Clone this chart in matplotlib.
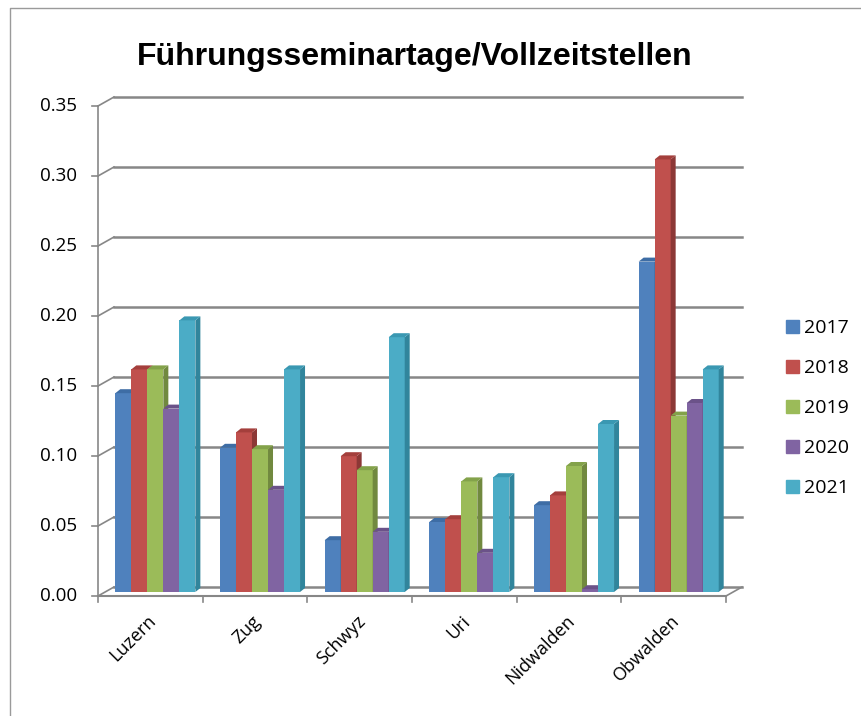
import matplotlib
matplotlib.use("Agg")
import matplotlib.pyplot as plt
import matplotlib.transforms as mtransforms
from matplotlib.patches import Polygon, Rectangle

# data
cantons = ["Luzern", "Zug", "Schwyz", "Uri", "Nidwalden", "Obwalden"]
years = ["2017", "2018", "2019", "2020", "2021"]
v2017 = [0.142, 0.103, 0.037, 0.050, 0.062, 0.236]
v2018 = [0.159, 0.114, 0.097, 0.052, 0.069, 0.309]
v2019 = [0.159, 0.102, 0.087, 0.079, 0.090, 0.126]
v2020 = [0.131, 0.073, 0.043, 0.028, 0.002, 0.135]
v2021 = [0.194, 0.159, 0.182, 0.082, 0.120, 0.159]
series = [v2017, v2018, v2019, v2020, v2021]
yticks = [0.00, 0.05, 0.10, 0.15, 0.20, 0.25, 0.30, 0.35]

front_cols = ["#4F81BD", "#C0504D", "#9BBB59", "#8064A2", "#4BACC6"]
side_cols = ["#385D8A", "#8C3836", "#71893F", "#5C4776", "#31859C"]
top_cols = ["#3E6DA5", "#A43F3C", "#83A24A", "#6B5289", "#3A98B2"]
grid_col = "#878787"

plt.rcParams['font.family'] = ['Open Sans', 'DejaVu Sans']

W, H = 861, 716
fig = plt.figure(figsize=(W / 100, H / 100), dpi=100)
# axes = plane of the bar fronts
ax = fig.add_axes([103 / W, 124 / H, 628 / W, 490 / H])
ax.set_xlim(-0.5, len(cantons) - 0.5)
ax.set_ylim(0, 0.35)
ax.axis("off")

def shifted(dx, dy):
    return mtransforms.offset_copy(ax.transData, fig=fig, x=dx, y=dy, units="dots")

front = shifted(-5, -4)
back = shifted(11, 5)
x0, x1 = -0.5, len(cantons) - 0.5

# back wall gridlines
for t in yticks:
    ax.plot([x0, x1], [t, t], color=grid_col, lw=1.8, transform=back, clip_on=False, zorder=1)
# left wall diagonals + ticks + labels
for t in yticks:
    xa, ya = front.transform((x0, t))
    xb, yb = back.transform((x0, t))
    fig.add_artist(plt.Line2D([xa / W, xb / W], [ya / H, yb / H], color=grid_col, lw=1.2))
    fig.add_artist(plt.Line2D([(xa - 6) / W, xa / W], [ya / H, ya / H], color=grid_col, lw=1.2))
    ax.text(x0, t, f"{t:.2f}", transform=shifted(-26, -4), ha="right", va="center", fontsize=13.5)
ax.plot([x0, x0], [0, 0.35], color=grid_col, lw=1.2, transform=front, clip_on=False)
# floor
ax.plot([x0, x1], [0, 0], color=grid_col, lw=1.5, transform=front, clip_on=False, zorder=1)
xa, ya = front.transform((x1, 0))
xb, yb = back.transform((x1, 0))
fig.add_artist(plt.Line2D([xa / W, xb / W], [ya / H, yb / H], color=grid_col, lw=1.2))
for i in range(len(cantons) + 1):
    xa, ya = front.transform((i - 0.5, 0))
    fig.add_artist(plt.Line2D([xa / W, xa / W], [ya / H, (ya - 6) / H], color=grid_col, lw=1.2))

# bars with a fake depth
bw = 0.153
ddx = 5 / (628 / 6)
ddy = 4 / 1400
z = 3
for i in range(len(cantons)):
    for j, vals in enumerate(series):
        h = vals[i]
        xl = i + (j - 2) * bw - bw / 2
        ax.bar(xl, h, width=bw, align="edge", color=front_cols[j], edgecolor="none", zorder=z)
        ax.add_patch(Polygon([(xl + bw, 0), (xl + bw + ddx, ddy), (xl + bw + ddx, h + ddy), (xl + bw, h)],
                             closed=True, facecolor=side_cols[j], edgecolor="none", zorder=z))
        ax.add_patch(Polygon([(xl, h), (xl + bw, h), (xl + bw + ddx, h + ddy), (xl + ddx, h + ddy)],
                             closed=True, facecolor=top_cols[j], edgecolor="none", zorder=z))
        z += 1

# category labels
for i, name in enumerate(cantons):
    ax.text(i, 0, name, transform=shifted(-8, -20), rotation=45, ha="right", va="top",
            rotation_mode="anchor", fontsize=13)

fig.text(0.482, 0.920, "Führungsseminartage/Vollzeitstellen", ha="center", va="center",
         fontsize=23, fontweight="bold", family="Liberation Sans")

handles = [Rectangle((0, 0), 1, 1, color=c) for c in front_cols]
fig.legend(handles, years, loc="center left", bbox_to_anchor=(768 / W, 0.430), frameon=False,
           fontsize=14, handlelength=0.67, handleheight=0.67, handletextpad=0.3, labelspacing=1.13)

# chart border
fig.add_artist(plt.Line2D([10 / W, 10 / W, 1.0], [0.0, 1 - 8 / H, 1 - 8 / H], color="#9a9a9a", lw=1.0))

fig.savefig("out.png", dpi=100)
